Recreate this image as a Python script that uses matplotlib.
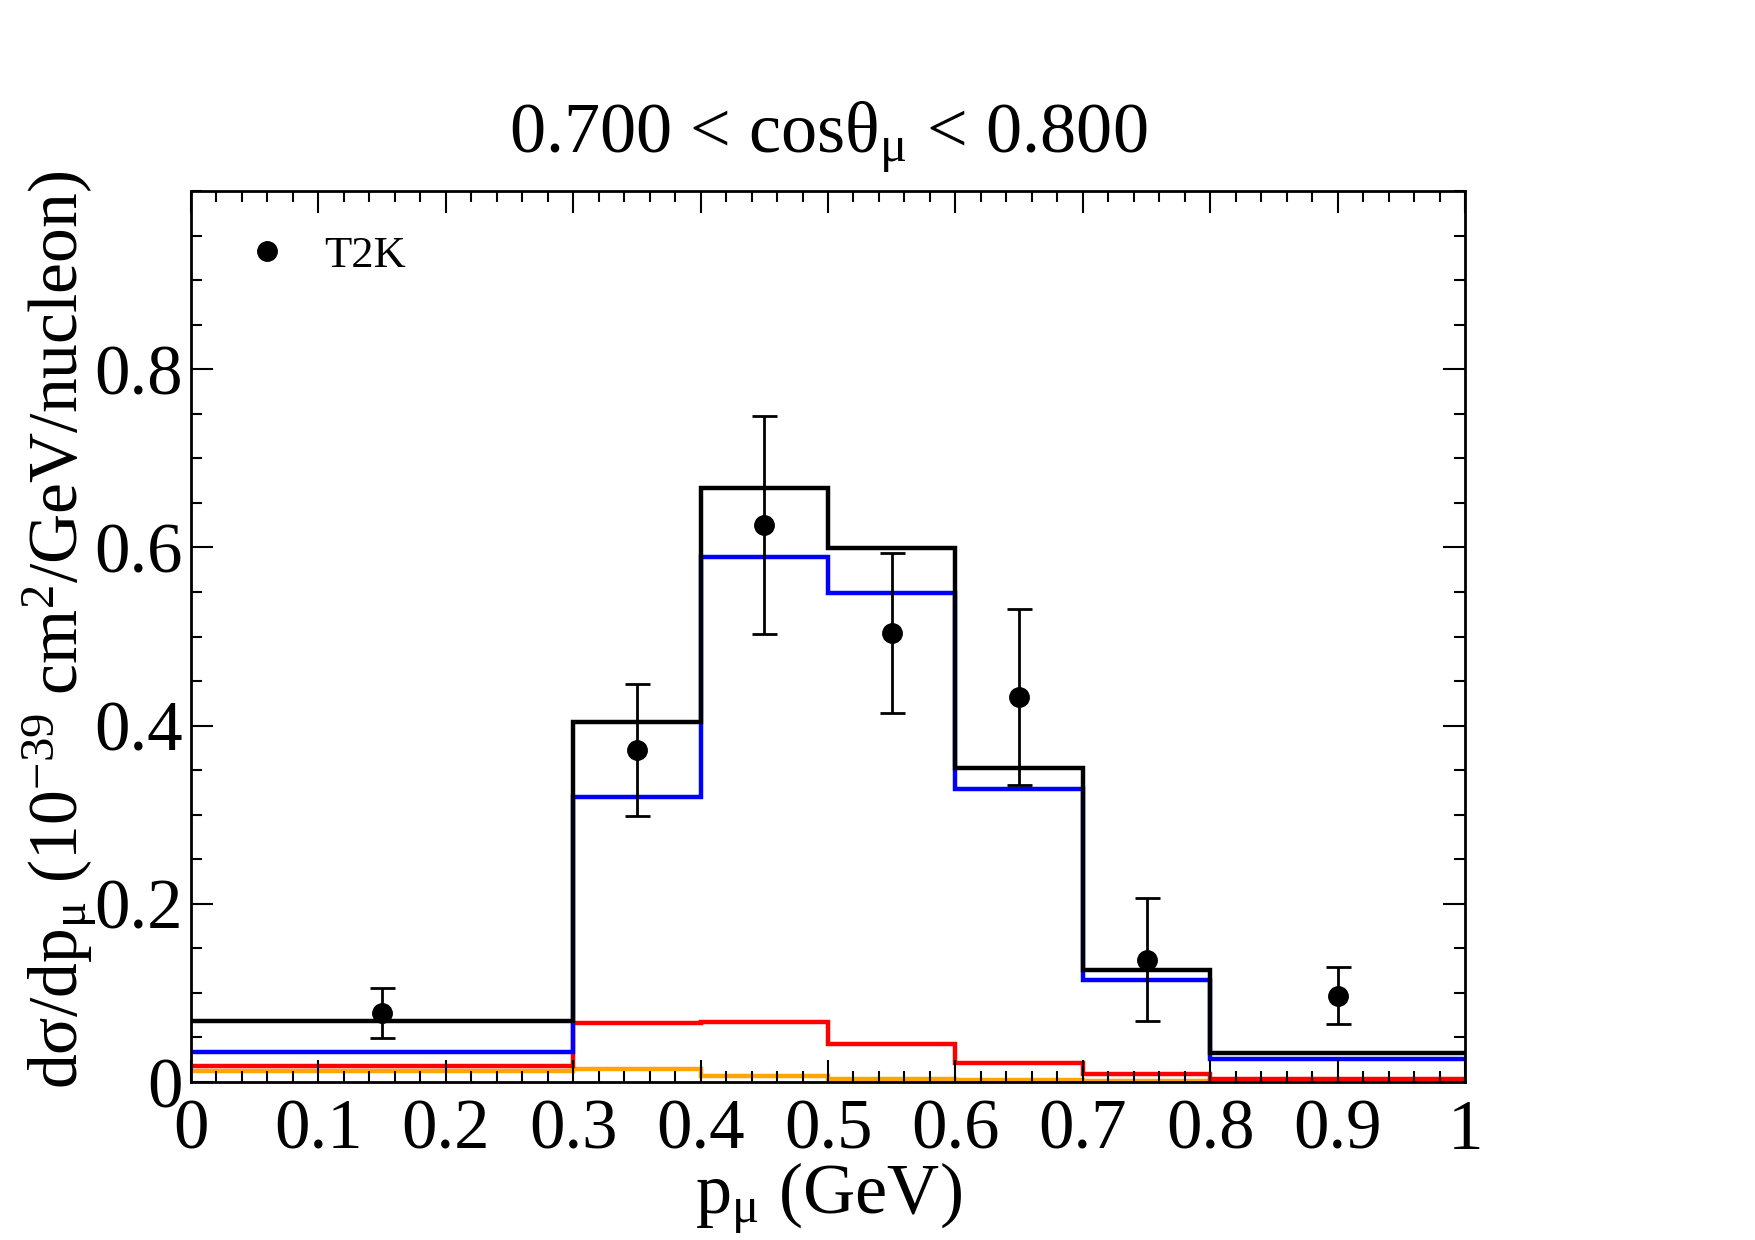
import numpy as np
import matplotlib
matplotlib.use('Agg')
import matplotlib.pyplot as plt
from matplotlib.lines import Line2D
from matplotlib.ticker import MultipleLocator

plt.rcParams['font.family'] = ['Liberation Serif', 'DejaVu Serif']
plt.rcParams['mathtext.fontset'] = 'custom'
plt.rcParams['mathtext.rm'] = 'Liberation Serif'
plt.rcParams['mathtext.it'] = 'Liberation Serif:italic'

# bins of p_mu (GeV)
edges = [0.0, 0.3, 0.4, 0.5, 0.6, 0.7, 0.8, 1.0]

# model curves, one value per bin
total = [0.068, 0.404, 0.667, 0.599, 0.353, 0.126, 0.033]
blue_vals = [0.034, 0.320, 0.589, 0.549, 0.329, 0.114, 0.026]
red_vals = [0.018, 0.066, 0.067, 0.043, 0.021, 0.009, 0.0035]
orange_vals = [0.012, 0.0146, 0.0072, 0.0034, 0.002, 0.001, 0.0005]

# T2K data
t2k_x = [0.15, 0.35, 0.45, 0.55, 0.65, 0.75, 0.9]
t2k_y = [0.077, 0.373, 0.625, 0.504, 0.432, 0.137, 0.097]
t2k_err = [0.028, 0.074, 0.122, 0.090, 0.099, 0.069, 0.032]

fig = plt.figure(figsize=(17.55, 12.4), dpi=100)
ax = fig.add_axes([0.1088, 0.1274, 0.726, 0.7185])

lw = 3.2
ax.stairs(orange_vals, edges, color='orange', lw=lw, baseline=None)
ax.stairs(red_vals, edges, color='red', lw=lw, baseline=None)
ax.stairs(blue_vals, edges, color='blue', lw=lw, baseline=None)
ax.stairs(total, edges, color='black', lw=lw, baseline=None)

ax.errorbar(t2k_x, t2k_y, yerr=t2k_err, fmt='o', color='black', ms=14,
            elinewidth=2.0, capsize=9, capthick=2.0, zorder=5)

handles = [Line2D([], [], marker='o', ls='none', color='black', ms=14)]
ax.legend(handles, ['T2K'], loc='upper left', bbox_to_anchor=(0.042, 0.95),
          frameon=False, fontsize=32, handlelength=1.0, handletextpad=0.8,
          borderpad=0, borderaxespad=0)

ax.set_xlim(0, 1)
ax.set_ylim(0, 1)
ax.xaxis.set_major_locator(MultipleLocator(0.1))
ax.xaxis.set_minor_locator(MultipleLocator(0.02))
ax.yaxis.set_major_locator(MultipleLocator(0.2))
ax.yaxis.set_minor_locator(MultipleLocator(0.05))
ax.set_xticks(np.arange(0, 1.01, 0.1))
ax.set_xticklabels(['0', '0.1', '0.2', '0.3', '0.4', '0.5', '0.6', '0.7', '0.8', '0.9', '1'])
ax.set_yticks([0, 0.2, 0.4, 0.6, 0.8])
ax.set_yticklabels(['0', '0.2', '0.4', '0.6', '0.8'])

ax.tick_params(which='both', direction='in', top=True, right=True, width=1.5)
ax.tick_params(which='major', length=16, labelsize=51)
ax.tick_params(axis='x', which='major', pad=12)
ax.tick_params(axis='y', which='major', pad=6)
ax.tick_params(which='minor', length=8)
for s in ax.spines.values():
    s.set_linewidth(2.0)

fig.text(0.472, 0.8766, r'0.700 < cosθ$_\mathrm{μ}$ < 0.800', ha='center',
         va='baseline', fontsize=52)
fig.text(0.472, 0.021, r'p$_\mathrm{μ}$ (GeV)', ha='center', va='baseline',
         fontsize=52)
fig.text(0.0439, 0.492,
         r'dσ/dp$_\mathrm{μ}$ (10$^\mathrm{-39}$ cm$^\mathrm{2}$/GeV/nucleon)',
         rotation=90, rotation_mode='anchor', ha='center', va='baseline',
         fontsize=50)

fig.savefig('out.png', dpi=100)
